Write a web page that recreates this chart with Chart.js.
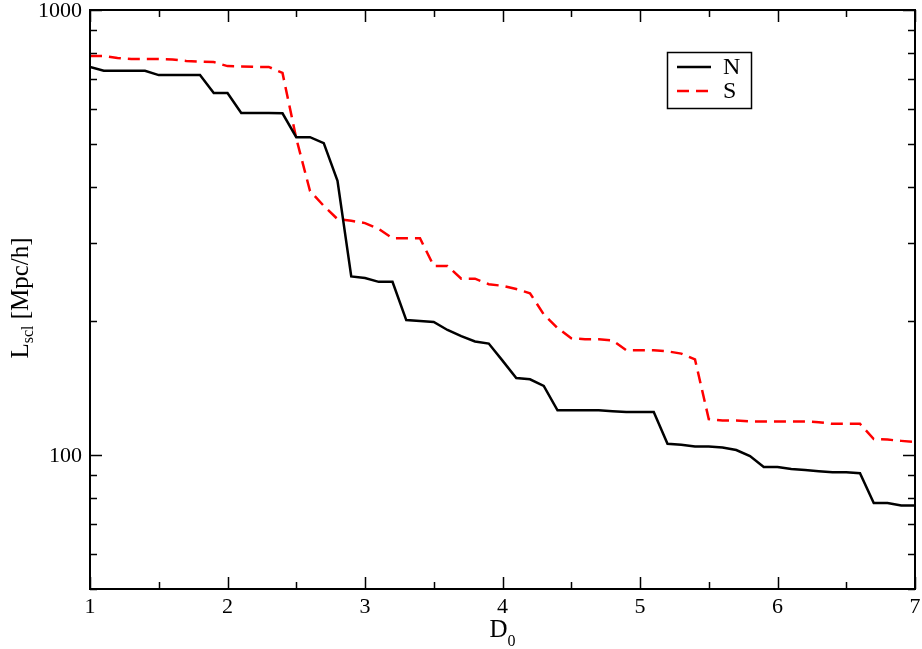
<!DOCTYPE html>
<html>
<head>
<meta charset="utf-8">
<script src="https://cdn.jsdelivr.net/npm/chart.js@4.4.1/dist/chart.umd.min.js"></script>
<style>
  html, body { margin: 0; padding: 0; background: #fff; }
  #wrap { width: 922px; height: 649px; }
</style>
</head>
<body>
<div id="wrap"><canvas id="chart" width="922" height="649"></canvas></div>
<script>
// data
const d0 = [1.0, 1.1, 1.2, 1.3, 1.4, 1.5, 1.6, 1.7, 1.8, 1.9,
  2.0, 2.1, 2.2, 2.3, 2.4, 2.5, 2.6, 2.7, 2.8, 2.9,
  3.0, 3.1, 3.2, 3.3, 3.4, 3.5, 3.6, 3.7, 3.8, 3.9,
  4.0, 4.1, 4.2, 4.3, 4.4, 4.5, 4.6, 4.7, 4.8, 4.9,
  5.0, 5.1, 5.2, 5.3, 5.4, 5.5, 5.6, 5.7, 5.8, 5.9,
  6.0, 6.1, 6.2, 6.3, 6.4, 6.5, 6.6, 6.7, 6.8, 6.9, 7.0]

const lengthN = [745, 730, 730, 730, 730, 714, 714, 714, 714, 651,
  651, 587, 587, 587, 586, 518, 518, 502, 413, 252,
  250, 245, 245, 201, 200, 199, 191, 185, 180, 178,
  163, 149, 148, 143, 126, 126, 126, 126, 125.5, 125,
  125, 125, 106, 105.5, 104.5, 104.5, 104, 102.6, 99.5, 94,
  94, 93, 92.5, 92, 91.5, 91.5, 91, 78, 78, 77, 77]

const lengthS = [788, 788, 780, 776, 776, 776, 774, 768, 766, 764,
  748, 747, 745, 745, 722, 515, 392, 363, 339, 336,
  332, 322, 307, 307, 307, 266, 266, 249, 249, 242,
  240, 236, 231, 207, 193, 183, 182, 182, 181, 172,
  172, 172, 171, 169, 164, 120.5, 119.5, 119.5, 119, 119,
  119, 119, 119, 118.5, 117.5, 117.5, 117.5, 108.6, 108.3, 107.6, 107]

const seriesNames = ['N', 'S']

const xMajorTicks = [1, 2, 3, 4, 5, 6, 7]
const xMinorTicks = [1.5, 2.5, 3.5, 4.5, 5.5, 6.5]
const yMajorTicks = [100, 1000]
const yMinorTicks = [50, 60, 70, 80, 90, 200, 300, 400, 500, 600, 700, 800, 900]

const FONT = '"Liberation Serif", "Times New Roman", serif'

// frame, inward ticks, labels and legend, grace style
const frameAndLabels = {
  id: 'frameAndLabels',
  afterDraw(chart) {
    const { ctx, chartArea: a, scales } = chart
    const x = scales.x
    const y = scales.y
    ctx.save()
    ctx.strokeStyle = '#000'
    ctx.fillStyle = '#000'
    ctx.lineWidth = 2
    ctx.strokeRect(a.left, a.top, a.right - a.left, a.bottom - a.top)

    ctx.lineWidth = 1.5
    ctx.beginPath()
    const xt = (v, len) => {
      const px = Math.round(x.getPixelForValue(v)) + 0.5
      ctx.moveTo(px, a.bottom); ctx.lineTo(px, a.bottom - len)
      ctx.moveTo(px, a.top); ctx.lineTo(px, a.top + len)
    }
    const yt = (v, len) => {
      const py = Math.round(y.getPixelForValue(v)) + 0.5
      ctx.moveTo(a.left, py); ctx.lineTo(a.left + len, py)
      ctx.moveTo(a.right, py); ctx.lineTo(a.right - len, py)
    }
    xMajorTicks.forEach((v) => xt(v, 12))
    xMinorTicks.forEach((v) => xt(v, 7))
    yMajorTicks.forEach((v) => yt(v, 12))
    yMinorTicks.forEach((v) => yt(v, 7))
    ctx.stroke()

    // tick labels
    ctx.font = `22px ${FONT}`
    ctx.textAlign = 'center'
    ctx.textBaseline = 'alphabetic'
    xMajorTicks.forEach((v) => {
      ctx.fillText(String(v), x.getPixelForValue(v), 613)
    })
    ctx.textAlign = 'right'
    ctx.textBaseline = 'middle'
    yMajorTicks.forEach((v) => {
      ctx.fillText(String(v), a.left - 8, y.getPixelForValue(v) + 1)
    })

    // x title: D_0
    ctx.textBaseline = 'alphabetic'
    ctx.textAlign = 'left'
    ctx.font = `25px ${FONT}`
    const wD = ctx.measureText('D').width
    ctx.font = `16px ${FONT}`
    const w0 = ctx.measureText('0').width
    const xs = (a.left + a.right) / 2 - (wD + w0) / 2
    ctx.font = `25px ${FONT}`
    ctx.fillText('D', xs, 637)
    ctx.font = `16px ${FONT}`
    ctx.fillText('0', xs + wD, 646)

    // y title: L_scl [Mpc/h]
    ctx.save()
    ctx.translate(28, 298)
    ctx.rotate(-Math.PI / 2)
    ctx.font = `25px ${FONT}`
    const wL = ctx.measureText('L').width
    const wRest = ctx.measureText(' [Mpc/h]').width
    ctx.font = `16px ${FONT}`
    const wSub = ctx.measureText('scl').width
    let tx = -(wL + wSub + wRest) / 2
    ctx.font = `25px ${FONT}`
    ctx.fillText('L', tx, 0)
    tx += wL
    ctx.font = `16px ${FONT}`
    ctx.fillText('scl', tx, 5)
    tx += wSub
    ctx.font = `25px ${FONT}`
    ctx.fillText(' [Mpc/h]', tx, 0)
    ctx.restore()

    // legend box
    ctx.lineWidth = 1.5
    ctx.strokeRect(667.5, 52.5, 84, 56)
    chart.data.datasets.forEach((ds, i) => {
      const ly = 67 + i * 24
      ctx.strokeStyle = ds.borderColor
      ctx.lineWidth = ds.borderWidth
      ctx.setLineDash(ds.borderDash || [])
      ctx.beginPath()
      ctx.moveTo(677, ly)
      ctx.lineTo(711, ly)
      ctx.stroke()
      ctx.setLineDash([])
      ctx.fillStyle = '#000'
      ctx.font = `24px ${FONT}`
      ctx.textAlign = 'left'
      ctx.textBaseline = 'middle'
      ctx.fillText(ds.label, 723, ly + 1)
    })
    ctx.restore()
  },
}

const toPoints = (vals) => vals.map((v, i) => ({ x: d0[i], y: v }))

new Chart(document.getElementById('chart'), {
  type: 'line',
  data: {
    datasets: [
      {
        label: seriesNames[0],
        data: toPoints(lengthN),
        borderColor: '#000000',
        borderWidth: 2.5,
        pointRadius: 0,
        tension: 0,
        fill: false,
      },
      {
        label: seriesNames[1],
        data: toPoints(lengthS),
        borderColor: '#ff0000',
        borderWidth: 2.5,
        borderDash: [12, 7],
        pointRadius: 0,
        tension: 0,
        fill: false,
      },
    ],
  },
  options: {
    responsive: false,
    animation: false,
    events: [],
    layout: {
      padding: { left: 90, top: 10, right: 7, bottom: 60 },
    },
    scales: {
      x: { type: 'linear', min: 1, max: 7, display: false },
      y: { type: 'logarithmic', min: 50, max: 1000, display: false },
    },
    plugins: {
      legend: { display: false },
      tooltip: { enabled: false },
    },
  },
  plugins: [frameAndLabels],
})
</script>
</body>
</html>
